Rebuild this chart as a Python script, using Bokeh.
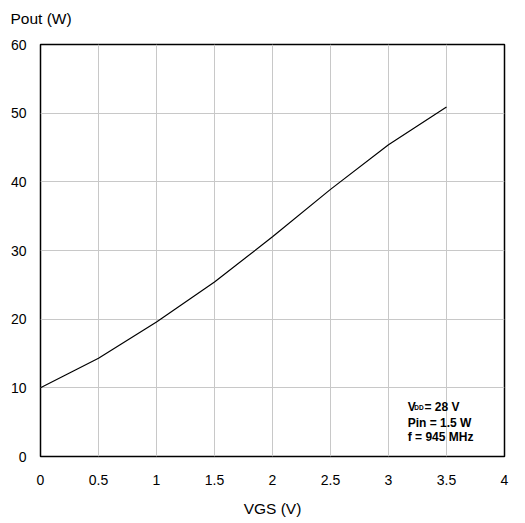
from bokeh.plotting import figure
from bokeh.models import Range1d, FixedTicker, Label
from bokeh.embed import file_html
from bokeh.resources import INLINE

vgs = [0, 0.5, 1.0, 1.5, 2.0, 2.5, 3.0, 3.5]
pout = [10.0, 14.3, 19.6, 25.4, 32.0, 38.9, 45.4, 50.9]
x_ticks = [0, 0.5, 1, 1.5, 2, 2.5, 3, 3.5, 4]
y_ticks = [0, 10, 20, 30, 40, 50, 60]

FONT = "Liberation Sans"

p = figure(width=522, height=520, output_backend="svg", toolbar_location=None,
           x_range=Range1d(0, 4), y_range=Range1d(0, 60),
           min_border_left=40, min_border_right=18, min_border_top=44, min_border_bottom=64)

p.outline_line_color = "black"
p.outline_line_width = 1.5
p.background_fill_color = "white"
p.border_fill_color = "white"

p.title.text = "Pout (W)\n "
p.title.align = "left"
p.title.vertical_align = "bottom"
p.title.offset = -30
p.title.standoff = 2
p.title.text_font = FONT
p.title.text_font_size = "15.5px"
p.title.text_font_style = "normal"
p.title.text_color = "black"

for ax in (p.xaxis, p.yaxis):
    ax.axis_line_color = None
    ax.major_tick_line_color = None
    ax.minor_tick_line_color = None
    ax.major_tick_out = 0
    ax.major_tick_in = 0
    ax.minor_tick_out = 0
    ax.minor_tick_in = 0
    ax.major_label_text_font = FONT
    ax.major_label_text_font_size = "14px"
    ax.major_label_text_color = "black"

p.xaxis.ticker = FixedTicker(ticks=x_ticks)
p.yaxis.ticker = FixedTicker(ticks=y_ticks)
p.xaxis.major_label_overrides = {t: (str(t) if t != int(t) else str(int(t))) for t in x_ticks}
p.xaxis.major_label_standoff = 18
p.yaxis.major_label_standoff = 14

p.xaxis.axis_label = "VGS (V)"
p.xaxis.axis_label_text_font = FONT
p.xaxis.axis_label_text_font_size = "15.5px"
p.xaxis.axis_label_text_font_style = "normal"
p.xaxis.axis_label_text_color = "black"
p.xaxis.axis_label_standoff = 12

p.xgrid.grid_line_color = "#c8c8c8"
p.ygrid.grid_line_color = "#c8c8c8"
p.xgrid.grid_line_width = 1
p.ygrid.grid_line_width = 1

p.line(vgs, pout, line_color="black", line_width=1.2)

ann = dict(text_font=FONT, text_font_style="bold", text_baseline="alphabetic", text_color="black")
p.add_layout(Label(x=3.166, y=7.14, text="V", text_font_size="12px", **ann))
p.add_layout(Label(x=3.222, y=7.14, text="DD", text_font_size="6.5px", **ann))
p.add_layout(Label(x=3.31, y=7.14, text="= 28 V", text_font_size="12px", **ann))
p.add_layout(Label(x=3.166, y=4.95, text="Pin = 1.5 W", text_font_size="12px", **ann))
p.add_layout(Label(x=3.166, y=2.77, text="f = 945 MHz", text_font_size="12px", **ann))

open("out.html", "w").write(file_html(p, INLINE))
